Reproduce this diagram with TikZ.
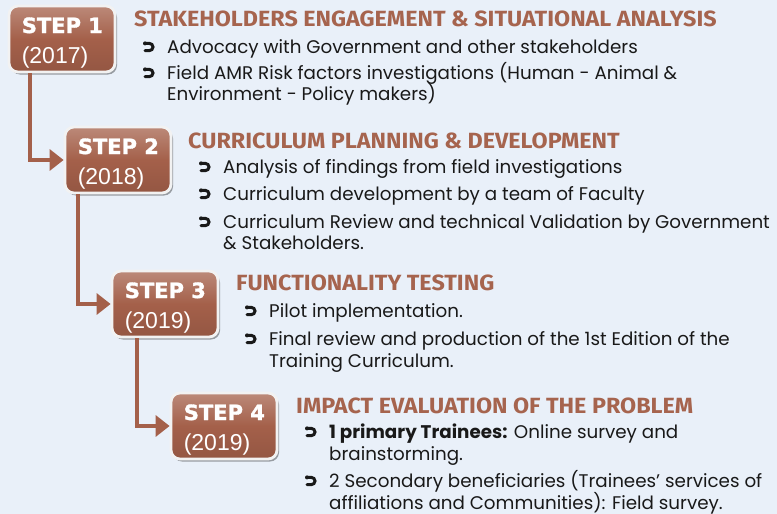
\documentclass[tikz,border=0pt]{standalone}
\usepackage{fontspec}
\setmainfont{Poppins}
\newfontfamily\headfont[FakeStretch=1.06]{Fira Sans}
\newfontfamily\yearfont{Liberation Sans}
\newfontfamily\stepfont[BoldFeatures={FakeBold=1.6}]{DejaVu Sans}
\usetikzlibrary{arrows.meta,shadows,calc}
\definecolor{bg}{RGB}{233,240,249}
\definecolor{boxc}{RGB}{164,96,74}
\definecolor{headc}{RGB}{166,100,78}
\definecolor{txt}{RGB}{25,25,25}
\tikzset{
  stepbox/.style={draw=white!90!gray, line width=2.8pt, rounded corners=9pt,
    top color=boxc!74!white, bottom color=boxc!90!black, middle color=boxc,
    minimum width=106pt, minimum height=66pt, inner sep=0pt,
    drop shadow={shadow xshift=2pt, shadow yshift=-2.5pt, opacity=0.35, fill=black}},
  steplbl/.style={anchor=base west, inner sep=0pt, text=white, font=\stepfont\bfseries\fontsize{21}{21}\selectfont},
  yearlbl/.style={anchor=base west, inner sep=0pt, text=white, font=\yearfont\fontsize{23}{23}\selectfont},
  conn/.style={draw=boxc, line width=4.5pt, -{Triangle[length=14pt,width=21pt]}},
  head/.style={anchor=base west, inner sep=0pt, text=headc, font=\headfont\bfseries\fontsize{22}{22}\selectfont},
  item/.style={anchor=base west, inner sep=0pt, text=txt, font=\fontsize{18.3}{18.3}\selectfont},
  bulline/.style={draw=txt, line width=3pt, line cap=round}
}
\begin{document}
\begin{tikzpicture}[x=1pt,y=-1pt]
\fill[bg] (0,0) rectangle (777,514);
\useasboundingbox (0,0) rectangle (777,514);

% step boxes
\node[stepbox] (s1) at (62,39) {};
\node[stepbox] (s2) at (118,160) {};
\node[stepbox] (s3) at (165,304) {};
\node[stepbox] (s4) at (224,426) {};
\foreach \s/\n/\y in {s1/1/2017, s2/2/2018, s3/3/2019, s4/4/2019}{
  \node[steplbl] (\s t) at ($(\s.west)+(14,-6)$) {STEP \n};
  \node[yearlbl] (\s y) at ($(\s.west)+(14,24)$) {(\y)};
}

% connectors
\draw[conn] ([xshift=-32pt]s1.south) |- (s2.west);
\draw[conn] ([xshift=-40pt]s2.south) |- (s3.west);
\draw[conn] ([xshift=-28pt]s3.south) |- (s4.west);

% step 1 text
\node[head] (h1) at (134,26) {STAKEHOLDERS ENGAGEMENT \& SITUATIONAL ANALYSIS};
\node[item] (t11) at (167,53) {Advocacy with Government and other stakeholders};
\node[item] (t12) at (167,79) {Field AMR Risk factors investigations (Human - Animal \&};
\node[item] (t13) at (167,100) {Environment - Policy makers)};

% step 2 text
\node[head] (h2) at (188,148) {CURRICULUM PLANNING \& DEVELOPMENT};
\node[item] (t21) at (223,173) {Analysis of findings from field investigations};
\node[item] (t22) at (223,200) {Curriculum development by a team of Faculty};
\node[item] (t23) at (223,228) {Curriculum Review and technical Validation by Government};
\node[item] (t24) at (223,249) {\& Stakeholders.};

% step 3 text
\node[head] (h3) at (236,290) {FUNCTIONALITY TESTING};
\node[item] (t31) at (269,317) {Pilot implementation.};
\node[item] (t32) at (269,345) {Final review and production of the 1st Edition of the};
\node[item] (t33) at (269,367) {Training Curriculum.};

% step 4 text
\node[head] (h4) at (296,413) {IMPACT EVALUATION OF THE PROBLEM};
\node[item] (t41) at (329,438) {\textbf{1 primary Trainees:} Online survey and};
\node[item] (t42) at (329,460) {brainstorming.};
\node[item] (t43) at (329,487) {2 Secondary beneficiaries (Trainees' services of};
\node[item] (t44) at (329,509) {affiliations and Communities): Field survey.};

% bullets, each placed left of its item
\foreach \t in {t11,t12,t21,t22,t23,t31,t32,t41,t43}{
  \coordinate (b\t) at ($(\t.base west)+(-22,-6)$);
  \draw[bulline] ($(b\t)+(0,-3.6)$) -- ($(b\t)+(4.4,-3.6)$) arc[start angle=-90,end angle=90,radius=3.6] -- ($(b\t)+(0,3.6)$);
  \fill[txt] ($(b\t)+(0,-3.6)$) circle (2pt);
}
\end{tikzpicture}
\end{document}
